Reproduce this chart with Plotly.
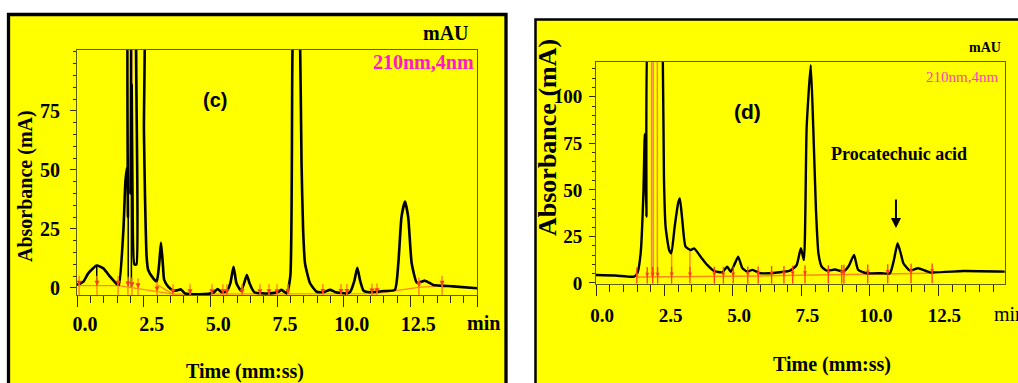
import plotly.graph_objects as go

# ---------------- panel (c) data ----------------
c_time = [-0.30, -0.06, 0.12, 0.44, 0.69, 0.94, 1.19, 1.27, 1.44, 1.52, 1.59, 1.61, 1.64, 1.68,
          1.71, 1.75, 1.78, 1.85, 1.93, 1.99, 2.17, 2.21, 2.25, 2.31, 2.37, 2.56, 2.69, 2.78,
          2.85, 2.92, 2.97, 3.12, 3.31, 3.45, 3.60, 3.75, 4.25, 4.62, 4.82, 4.97, 5.12, 5.30,
          5.45, 5.57, 5.68, 5.85, 5.98, 6.07, 6.17, 6.35, 6.94, 7.25, 7.37, 7.56, 7.70, 7.78,
          7.92, 8.07, 8.12, 8.18, 8.25, 8.44, 8.69, 8.95, 9.19, 9.40, 9.81, 9.95, 10.10,
          10.21, 10.32, 10.45, 10.69, 11.20, 11.62, 11.75, 11.87, 12.00, 12.12, 12.25, 12.44,
          12.60, 12.75, 13.06, 13.80, 14.70]
c_abs = [1.3, 2.7, 6.2, 9.5, 8.3, 4.8, 1.7, 1.3, 24.6, 45.8, 51.4, 30.0, 140.0, 140.0,
         40.0, 86.0, 40.0, 10.0, 10.0, 140.0, 140.0, 67.0, 38.7, 13.3, 7.6, 4.1, 2.7, 10.0,
         19.2, 10.0, 3.4, 0.6, -1.1, -1.0, -0.6, -2.3, -2.7, -2.5, -2.0, -0.4, -1.8, -1.5,
         2.0, 9.0, 2.0, -1.2, 2.5, 5.5, 2.0, -1.8, -2.3, -1.6, -0.8, -2.3, 5.0, 100.0,
         150.0, 100.0, 52.8, 24.6, 10.5, 2.0, -1.6, -1.8, -0.8, -1.8, -2.3, -1.5, 3.0,
         8.6, 3.0, -1.2, -1.8, -1.3, -0.8, 10.5, 30.2, 36.6, 30.0, 10.5, 2.3,
         2.6, 3.1, 1.3, 0.7, -0.1]
c_base_time = [-0.25, 1.27, 3.30, 10.90, 12.50, 13.40, None, 2.69, 3.30]
c_base_abs = [1.0, 1.0, -2.6, -2.4, 0.3, 1.0, None, 1.5, -2.6]
c_mark_time = [-0.22, 0.45, 1.24, 1.61, 1.76, 1.99, 2.70, 3.30, 3.94, 4.76, 5.17, 5.32, 5.89,
               6.56, 6.90, 7.20, 7.61, 8.92, 9.60, 9.82, 10.76, 10.95, 12.52, 13.39]
c_mark_abs = [1.0, 1.0, 1.0, 0.6, 0.3, -0.1, -1.5, -2.6, -2.6, -2.6, -2.6, -2.6, -2.6,
              -2.6, -2.6, -2.6, -2.6, -2.5, -2.5, -2.5, -2.3, -2.2, 0.3, 1.0]
c_drop_time = [0.44, 0.44, None, 1.62, 1.62, None, 1.74, 1.74]
c_drop_abs = [1.0, 9.5, None, 0.6, 51.0, None, 0.3, 86.0]
c_pink_time = [1.74, 1.74]
c_pink_abs = [86.0, 140.0]

c_xtick_vals = [0.0, 2.5, 5.0, 7.5, 10.0, 12.5]
c_xtick_text = ["0.0", "2.5", "5.0", "7.5", "10.0", "12.5"]
c_xmark_vals = [-0.3, 2.2, 4.7, 7.2, 9.7, 12.2, 14.7]
c_ytick_vals = [0, 25, 50, 75]
c_ytick_text = ["0", "25", "50", "75"]

# ---------------- panel (d) data ----------------
d_time = [-0.22, 0.50, 1.17, 1.29, 1.41, 1.51, 1.56, 1.59, 1.62, 1.70, 1.80, 2.15, 2.22, 2.26,
          2.32, 2.45, 2.53, 2.65, 2.78, 2.84, 2.93, 3.05, 3.24, 3.36, 3.60, 3.84, 4.09, 4.39,
          4.57, 4.70, 4.85, 4.97, 5.12, 5.30, 5.49, 5.79, 6.40, 6.86, 7.10, 7.26, 7.37, 7.47,
          7.62, 7.71, 7.81, 7.90, 8.02, 8.20, 8.50, 8.81, 9.00, 9.20, 9.35, 9.66, 10.20,
          10.51, 10.65, 10.79, 10.92, 11.00, 11.24, 11.54, 11.97, 13.19, 14.70]
d_abs = [4.3, 4.0, 3.4, 5.2, 15.9, 48.0, 80.0, 60.0, 35.5, 140.0, 140.0, 140.0, 118.0, 57.0,
         30.2, 17.7, 15.9, 30.0, 43.0, 45.4, 33.8, 19.5, 17.7, 18.6, 14.1, 9.7, 6.4, 5.7,
         8.7, 6.0, 10.5, 14.1, 8.0, 6.1, 7.0, 5.2, 5.6, 6.6, 9.5, 18.6, 12.3, 83.8,
         117.0, 83.8, 39.0, 15.9, 8.7, 6.6, 7.2, 6.1, 9.0, 15.0, 7.0, 5.2, 5.2,
         5.2, 12.0, 21.3, 15.0, 10.6, 6.6, 7.9, 5.7, 6.4, 6.1]
d_base_time = [1.27, 6.00, 12.05]
d_base_abs = [3.2, 3.8, 5.2]
d_mark_time = [1.27, 1.65, 1.85, 2.03, 2.54, 3.21, 4.10, 4.43, 4.79, 5.32, 5.70, 6.19, 6.64,
               6.96, 7.41, 8.26, 8.75, 8.83, 9.70, 10.43, 11.28, 12.05]
d_mark_abs = [3.2, 3.3, 3.3, 3.3, 3.4, 3.4, 3.5, 3.5, 3.5, 3.6, 3.6, 3.8, 3.9,
              4.0, 4.1, 4.3, 4.4, 4.5, 4.6, 4.8, 5.0, 5.2]
d_drop_time = [1.87, 1.87, None, 2.02, 2.02, None, 2.54, 2.54, None, 3.21, 3.21]
d_drop_abs = [3.3, 140.0, None, 3.3, 140.0, None, 3.4, 16.0, None, 3.4, 17.7]
d_pink_time = [1.81, 1.81]
d_pink_abs = [3.3, 140.0]

d_xtick_vals = [0.0, 2.5, 5.0, 7.5, 10.0, 12.5]
d_xtick_text = ["0.0", "2.5", "5.0", "7.5", "10.0", "12.5"]
d_xmark_vals = [-0.22, 2.28, 4.78, 7.28, 9.78, 12.28, 14.78]
d_ytick_vals = [0, 25, 50, 75, 100]
d_ytick_text = ["0", "25", "50", "75", "100"]

# ---------------- styling ----------------
W, H = 1018, 383
YELLOW = "#FFFF00"
FRAME = "#5c5c00"
TICK = "#2e2e00"
SERIF = "Liberation Serif"
SANS = "Liberation Sans"
ORANGE = "#ff8a1c"
RED = "#ff3a1a"


def fx(p):
    return p / W


def fy(p):
    return 1 - p / H


fig = go.Figure()

# panel (c)
fig.add_trace(go.Scatter(x=c_base_time, y=c_base_abs, mode="lines",
                         line=dict(color=ORANGE, width=1.3), xaxis="x", yaxis="y", hoverinfo="skip"))
fig.add_trace(go.Scatter(x=c_pink_time, y=c_pink_abs, mode="lines",
                         line=dict(color="#ff66cc", width=2), xaxis="x", yaxis="y", hoverinfo="skip"))
fig.add_trace(go.Scatter(x=c_drop_time, y=c_drop_abs, mode="lines",
                         line=dict(color="black", width=1.5), xaxis="x", yaxis="y", hoverinfo="skip"))
fig.add_trace(go.Scatter(x=c_time, y=c_abs, mode="lines",
                         line=dict(color="black", width=2.6, shape="spline", smoothing=0.5),
                         xaxis="x", yaxis="y"))
fig.add_trace(go.Scatter(x=c_mark_time, y=c_mark_abs, mode="markers",
                         marker=dict(symbol="line-ns", size=14, line=dict(color=ORANGE, width=1.5)),
                         xaxis="x", yaxis="y", hoverinfo="skip"))
fig.add_trace(go.Scatter(x=c_mark_time, y=c_mark_abs, mode="markers",
                         marker=dict(symbol="arrow-down", size=5, color=RED),
                         xaxis="x", yaxis="y", hoverinfo="skip"))
# invisible carrier so the tick-mark axis of (c) is drawn
fig.add_trace(go.Scatter(x=c_xmark_vals, y=[c_abs[0]] * len(c_xmark_vals), mode="markers",
                         marker=dict(opacity=0), xaxis="x3", yaxis="y", hoverinfo="skip"))

# panel (d)
fig.add_trace(go.Scatter(x=d_base_time, y=d_base_abs, mode="lines",
                         line=dict(color=ORANGE, width=1.5), xaxis="x2", yaxis="y2", hoverinfo="skip"))
fig.add_trace(go.Scatter(x=d_drop_time, y=d_drop_abs, mode="lines",
                         line=dict(color=ORANGE, width=1.5), xaxis="x2", yaxis="y2", hoverinfo="skip"))
fig.add_trace(go.Scatter(x=d_pink_time, y=d_pink_abs, mode="lines",
                         line=dict(color="#ff66cc", width=1.5), xaxis="x2", yaxis="y2", hoverinfo="skip"))
fig.add_trace(go.Scatter(x=d_time, y=d_abs, mode="lines",
                         line=dict(color="black", width=2.4, shape="spline", smoothing=0.5),
                         xaxis="x2", yaxis="y2"))
fig.add_trace(go.Scatter(x=d_mark_time, y=d_mark_abs, mode="markers",
                         marker=dict(symbol="line-ns", size=14, line=dict(color=RED, width=1.3)),
                         xaxis="x2", yaxis="y2", hoverinfo="skip"))
fig.add_trace(go.Scatter(x=d_mark_time, y=d_mark_abs, mode="markers",
                         marker=dict(symbol="arrow-down", size=4, color=RED),
                         xaxis="x2", yaxis="y2", hoverinfo="skip"))
fig.add_trace(go.Scatter(x=d_xmark_vals, y=[d_abs[0]] * len(d_xmark_vals), mode="markers",
                         marker=dict(opacity=0), xaxis="x4", yaxis="y2", hoverinfo="skip"))

tick_font_c = dict(family=SERIF, size=20, color="black", weight="bold")
tick_font_d = dict(family=SERIF, size=19, color="black", weight="bold")

common_frame = dict(showline=True, linecolor=FRAME, linewidth=1, mirror=True,
                    showgrid=False, zeroline=False, fixedrange=True, automargin=False)
overlay_common = dict(showline=False, showgrid=False, zeroline=False, fixedrange=True,
                      automargin=False, side="bottom", showticklabels=False,
                      ticks="outside", ticklen=11, tickwidth=1.4, tickcolor=TICK)

fig.update_layout(
    width=W, height=H, autosize=False,
    margin=dict(l=0, r=0, t=0, b=0, pad=0, autoexpand=False),
    paper_bgcolor="white", plot_bgcolor="rgba(0,0,0,0)",
    showlegend=False,
    xaxis=dict(domain=[fx(77), fx(477)], anchor="y", range=[-0.3, 14.7],
               tickmode="array", tickvals=c_xtick_vals, ticktext=c_xtick_text,
               ticks="", tickfont=tick_font_c, ticklabelstandoff=11, **common_frame),
    xaxis3=dict(overlaying="x", anchor="y", range=[-0.3, 14.7],
                tickmode="array", tickvals=c_xmark_vals,
                minor=dict(tickmode="linear", tick0=-0.3, dtick=0.5, ticks="outside",
                           ticklen=7, tickwidth=1.2, tickcolor=TICK),
                **overlay_common),
    yaxis=dict(domain=[fy(295), fy(50)], anchor="x", range=[-2.97, 100.8],
               tickmode="array", tickvals=c_ytick_vals, ticktext=c_ytick_text,
               ticks="outside", ticklen=6, tickwidth=1.2, tickcolor=TICK, tickfont=tick_font_c,
               ticklabelstandoff=6,
               minor=dict(tickmode="linear", tick0=0, dtick=5, ticks="outside",
                          ticklen=3, tickwidth=1, tickcolor=TICK),
               **common_frame),
    xaxis2=dict(domain=[fx(596), fx(1005)], anchor="y2", range=[-0.22, 14.71],
                tickmode="array", tickvals=d_xtick_vals, ticktext=d_xtick_text,
                ticks="", tickfont=tick_font_d, ticklabelstandoff=15, **common_frame),
    xaxis4=dict(overlaying="x2", anchor="y2", range=[-0.22, 14.71],
                tickmode="array", tickvals=d_xmark_vals,
                minor=dict(tickmode="linear", tick0=-0.22, dtick=0.5, ticks="outside",
                           ticklen=7, tickwidth=1.2, tickcolor=TICK),
                **overlay_common),
    yaxis2=dict(domain=[fy(283.5), fy(62)], anchor="x2", range=[-0.3, 118.7],
                tickmode="array", tickvals=d_ytick_vals, ticktext=d_ytick_text,
                ticks="outside", ticklen=6, tickwidth=1.2, tickcolor=TICK, tickfont=tick_font_d,
                ticklabelstandoff=3,
                minor=dict(tickmode="linear", tick0=0, dtick=5, ticks="outside",
                           ticklen=3, tickwidth=1, tickcolor=TICK),
                **common_frame),
)

# panel backgrounds with black borders
fig.add_shape(type="rect", xref="paper", yref="paper", x0=fx(8.5), x1=fx(506), y0=-0.1, y1=fy(14.5),
              fillcolor=YELLOW, line=dict(color="black", width=3.3), layer="below")
fig.add_shape(type="rect", xref="paper", yref="paper", x0=fx(535.5), x1=1.1, y0=-0.1, y1=fy(19.5),
              fillcolor=YELLOW, line=dict(color="black", width=2.5), layer="below")

ann = []
# panel (c) texts
ann.append(dict(text="Absorbance (mA)", x=fx(25), y=fy(186), xref="paper", yref="paper",
                textangle=-90, showarrow=False, xanchor="center", yanchor="middle",
                font=dict(family=SERIF, size=20, color="black", weight="bold")))
ann.append(dict(text="Time (mm:ss)", x=fx(245), y=fy(371), xref="paper", yref="paper",
                showarrow=False, xanchor="center", yanchor="middle",
                font=dict(family=SERIF, size=20, color="black", weight="bold")))
ann.append(dict(text="min", x=fx(465), y=fy(323), xref="paper", yref="paper",
                showarrow=False, xanchor="left", yanchor="middle",
                font=dict(family=SERIF, size=20, color="black", weight="bold")))
ann.append(dict(text="mAU", x=fx(471), y=fy(33), xref="paper", yref="paper",
                showarrow=False, xanchor="right", yanchor="middle",
                font=dict(family=SERIF, size=20, color="black", weight="bold")))
ann.append(dict(text="210nm,4nm", x=fx(476), y=fy(62), xref="paper", yref="paper",
                showarrow=False, xanchor="right", yanchor="middle",
                font=dict(family=SERIF, size=20, color="#ff19c8", weight="bold")))
ann.append(dict(text="(c)", x=fx(214.5), y=fy(100), xref="paper", yref="paper",
                showarrow=False, xanchor="center", yanchor="middle",
                font=dict(family=SANS, size=20, color="black", weight="bold")))
# panel (d) texts
ann.append(dict(text="Absorbance (mA)", x=fx(547), y=fy(138), xref="paper", yref="paper",
                textangle=-90, showarrow=False, xanchor="center", yanchor="middle",
                font=dict(family=SERIF, size=26, color="black", weight="bold")))
ann.append(dict(text="Time (mm:ss)", x=fx(832), y=fy(364), xref="paper", yref="paper",
                showarrow=False, xanchor="center", yanchor="middle",
                font=dict(family=SERIF, size=20, color="black", weight="bold")))
ann.append(dict(text="min", x=fx(992), y=fy(314), xref="paper", yref="paper",
                showarrow=False, xanchor="left", yanchor="middle",
                font=dict(family=SERIF, size=20, color="black")))
ann.append(dict(text="mAU", x=fx(1003), y=fy(48), xref="paper", yref="paper",
                showarrow=False, xanchor="right", yanchor="middle",
                font=dict(family=SERIF, size=14, color="black", weight="bold")))
ann.append(dict(text="210nm,4nm", x=fx(1000), y=fy(77), xref="paper", yref="paper",
                showarrow=False, xanchor="right", yanchor="middle",
                font=dict(family=SERIF, size=15, color="#ff3cc8")))
ann.append(dict(text="(d)", x=fx(747), y=fy(111), xref="paper", yref="paper",
                showarrow=False, xanchor="center", yanchor="middle",
                font=dict(family=SANS, size=21, color="black", weight="bold")))
ann.append(dict(text="Procatechuic acid", x=fx(898.5), y=fy(154), xref="paper", yref="paper",
                showarrow=False, xanchor="center", yanchor="middle",
                font=dict(family=SERIF, size=18, color="black", weight="bold")))
ann.append(dict(text="", x=10.73, y=29.5, xref="x2", yref="y2", ax=10.73, ay=45.6,
                axref="x2", ayref="y2", showarrow=True, arrowhead=2, arrowsize=1,
                arrowwidth=2, arrowcolor="black"))
fig.update_layout(annotations=ann)

fig.write_html("out.html", config={"displayModeBar": False},
               post_script="document.body.style.margin='0';document.body.style.overflow='hidden';")
